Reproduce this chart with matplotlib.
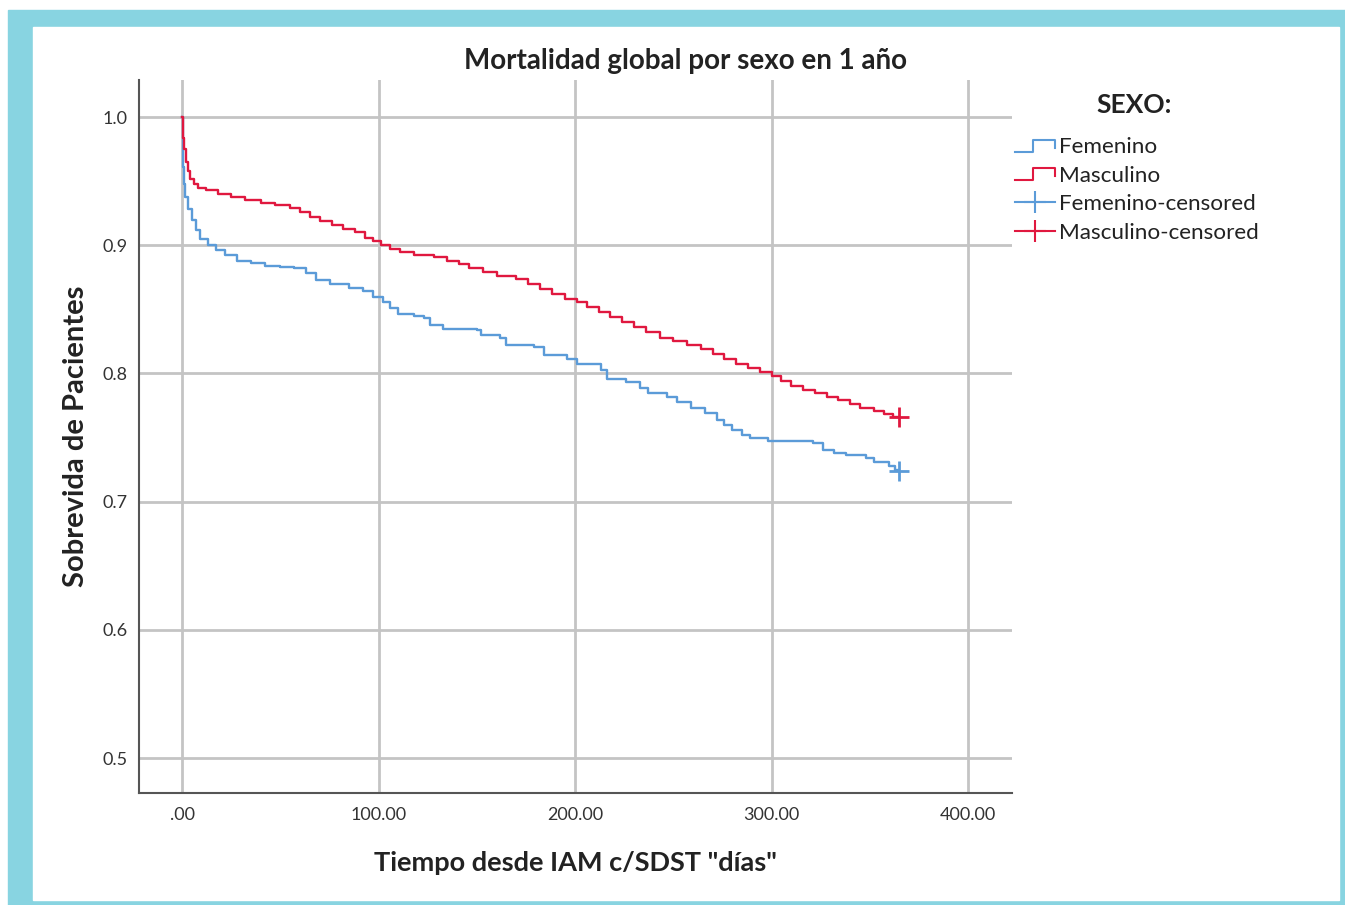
import numpy as np
import matplotlib
matplotlib.use("Agg")
import matplotlib.pyplot as plt
from matplotlib.lines import Line2D
from matplotlib.patches import Rectangle
from matplotlib.legend_handler import HandlerBase

plt.rcParams["font.family"] = ["Lato", "DejaVu Sans"]

# Kaplan-Meier estimates (day, survival)
FEM_DAYS = [0, 0.3, 0.6, 1, 1.5, 3, 5, 7, 9, 13, 17, 22, 28, 35, 42, 50, 57, 63, 68,
            75, 85, 92, 97, 102, 106, 110, 118, 123, 126, 133, 150, 152, 162, 165,
            179, 184, 196, 201, 213, 216, 226, 233, 237, 247, 252, 259, 266, 272,
            276, 280, 285, 289, 298, 321, 326, 332, 338, 348, 352, 360, 363, 365]
FEM_SURV = [1.0, 0.982, 0.961, 0.948, 0.938, 0.928, 0.920, 0.912, 0.905, 0.900,
            0.896, 0.892, 0.888, 0.886, 0.884, 0.883, 0.882, 0.878, 0.873, 0.870,
            0.867, 0.864, 0.860, 0.856, 0.851, 0.846, 0.845, 0.843, 0.838, 0.835,
            0.834, 0.830, 0.828, 0.822, 0.821, 0.814, 0.811, 0.807, 0.803, 0.796,
            0.793, 0.789, 0.785, 0.782, 0.778, 0.773, 0.769, 0.764, 0.760, 0.756,
            0.752, 0.750, 0.747, 0.746, 0.740, 0.738, 0.736, 0.734, 0.731, 0.728,
            0.725, 0.724]

MAS_DAYS = [0, 0.5, 1, 2, 3, 4, 6, 8, 12, 18, 25, 32, 40, 47, 55, 60, 65, 70, 76,
            82, 88, 93, 97, 101, 106, 111, 118, 128, 135, 141, 146, 153, 160, 170,
            176, 182, 188, 195, 201, 206, 212, 218, 224, 230, 236, 243, 250, 257,
            264, 270, 276, 282, 288, 294, 300, 305, 310, 316, 322, 328, 334, 340,
            345, 352, 357, 362, 365]
MAS_SURV = [1.0, 0.984, 0.975, 0.965, 0.958, 0.952, 0.948, 0.945, 0.943, 0.940,
            0.938, 0.935, 0.933, 0.931, 0.929, 0.926, 0.922, 0.919, 0.916, 0.913,
            0.910, 0.906, 0.903, 0.900, 0.897, 0.895, 0.892, 0.891, 0.888, 0.885,
            0.882, 0.879, 0.876, 0.874, 0.870, 0.866, 0.862, 0.858, 0.856, 0.852,
            0.848, 0.844, 0.840, 0.836, 0.832, 0.828, 0.825, 0.822, 0.819, 0.815,
            0.811, 0.807, 0.804, 0.801, 0.798, 0.794, 0.790, 0.787, 0.785, 0.782,
            0.779, 0.776, 0.773, 0.771, 0.768, 0.766, 0.766]

X_TICKS = [0, 100, 200, 300, 400]
X_TICKLABELS = [".00", "100.00", "200.00", "300.00", "400.00"]
Y_TICKS = [0.5, 0.6, 0.7, 0.8, 0.9, 1.0]
Y_TICKLABELS = ["0.5", "0.6", "0.7", "0.8", "0.9", "1.0"]

BLUE = "#5b9bd8"
RED = "#e0183f"
CYAN = "#88d4e1"
TXT = "#222222"


class StepHandler(HandlerBase):
    def create_artists(self, legend, orig_handle, xdescent, ydescent,
                       width, height, fontsize, trans):
        x0 = -xdescent
        y0 = -ydescent
        xs = [x0, x0 + width * 0.45, x0 + width * 0.45, x0 + width, x0 + width]
        ys = [y0 + height * 0.1, y0 + height * 0.1, y0 + height * 0.85,
              y0 + height * 0.85, y0 + height * 0.35]
        line = Line2D(xs, ys, color=orig_handle.get_color(), lw=1.5)
        line.set_transform(trans)
        return [line]


fig = plt.figure(figsize=(13.45, 9.05), dpi=100)

# cyan frame around the chart
fig.patches.append(Rectangle((8 / 1345, 0), 1 - 8 / 1345, 1 - 10 / 905,
                             transform=fig.transFigure, color=CYAN, zorder=-2))
fig.patches.append(Rectangle((33 / 1345, 5 / 905), (1339 - 33) / 1345, (900 - 27) / 905,
                             transform=fig.transFigure, color="white", zorder=-1))

ax = fig.add_axes([139 / 1345, 1 - 793 / 905, (1012 - 139) / 1345, (793 - 80) / 905])

fem_line, = ax.step(FEM_DAYS, FEM_SURV, where="post", color=BLUE, lw=1.7, zorder=3)
mas_line, = ax.step(MAS_DAYS, MAS_SURV, where="post", color=RED, lw=1.7, zorder=3)
ax.plot(FEM_DAYS[-1], FEM_SURV[-1], marker="+", ms=14, mew=2, color=BLUE, zorder=4)
ax.plot(MAS_DAYS[-1], MAS_SURV[-1], marker="+", ms=14, mew=2, color=RED, zorder=4)

ax.set_xlim(-22, 422.4)
ax.set_ylim(0.4727, 1.0289)
ax.set_xticks(X_TICKS)
ax.set_xticklabels(X_TICKLABELS)
ax.set_yticks(Y_TICKS)
ax.set_yticklabels(Y_TICKLABELS)
ax.tick_params(length=0, labelsize=13, colors="#333333")
ax.tick_params(axis="x", pad=10)
ax.tick_params(axis="y", pad=8)
ax.grid(True, color="#c4c4c4", lw=2)
ax.set_axisbelow(True)

for side in ["top", "right"]:
    ax.spines[side].set_visible(False)
for side in ["left", "bottom"]:
    ax.spines[side].set_color("#555555")
    ax.spines[side].set_linewidth(1.5)

fig.text(686 / 1345, 1 - 61 / 905, "Mortalidad global por sexo en 1 año",
         fontsize=20, fontweight="bold", color=TXT, ha="center", va="center")
ax.set_xlabel('Tiempo desde IAM c/SDST "días"', fontsize=19.5, fontweight="bold",
              color=TXT, labelpad=20)
ax.set_ylabel("Sobrevida de Pacientes", fontsize=21, fontweight="bold",
              color=TXT, labelpad=10)

handles = [
    Line2D([], [], color=BLUE),
    Line2D([], [], color=RED),
    Line2D([0], [0], color=BLUE, lw=1.5, marker="+", ms=16, mew=1.5),
    Line2D([0], [0], color=RED, lw=1.5, marker="+", ms=16, mew=1.5),
]
labels = ["Femenino", "Masculino", "Femenino-censored", "Masculino-censored"]
leg = fig.legend(handles, labels, loc="upper left",
                 bbox_to_anchor=(995 / 1345, 1 - 117 / 905),
                 frameon=False, fontsize=16.2, handlelength=1.75, handletextpad=0.2,
                 labelspacing=0.38,
                 handler_map={handles[0]: StepHandler(), handles[1]: StepHandler()})
for t in leg.get_texts():
    t.set_color(TXT)
fig.text(1134 / 1345, 1 - 105 / 905, "SEXO:", fontsize=19, fontweight="bold",
         color=TXT, ha="center", va="center")

fig.savefig("out.png", dpi=100)
